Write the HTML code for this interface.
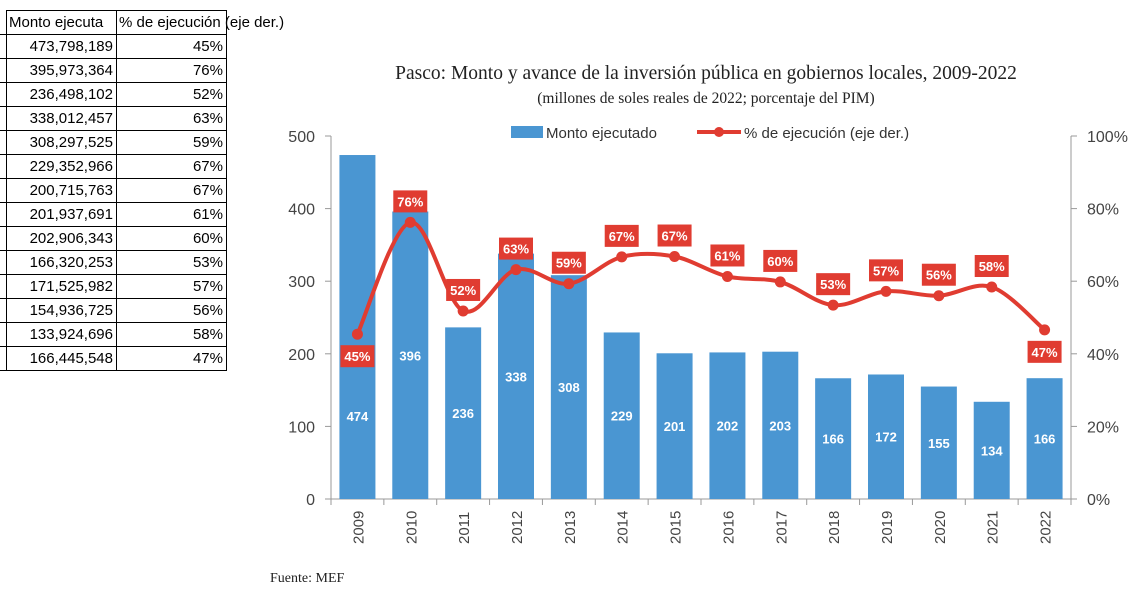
<!DOCTYPE html>
<html><head><meta charset="utf-8"><style>
body{margin:0;width:1134px;height:593px;background:#fff;overflow:hidden;position:relative;font-family:"Liberation Sans",sans-serif}
table{position:absolute;left:-2px;top:10px;border-collapse:collapse;font-family:"Liberation Sans",sans-serif;font-size:15px;color:#000}
td{border:1px solid #000;height:23px;padding:0 3px;line-height:23px;text-align:right;white-space:nowrap}
td.a{width:8px;border-left:none;padding:0}
td.b{width:103px}td.c{width:103px}
</style></head><body>
<table>
<tr><td class="a" style="border-top:none"></td><td class="b" style="text-align:left;padding-left:2px">Monto ejecuta</td><td class="c" style="text-align:left;padding-left:2px;overflow:visible">% de ejecución<span style="position:absolute">&nbsp;(eje der.)</span></td></tr>
<tbody id="tb"></tbody>
</table>
<svg id="chart" width="1134" height="593" style="position:absolute;left:0;top:0"></svg>
<script>
const years=["2009","2010","2011","2012","2013","2014","2015","2016","2017","2018","2019","2020","2021","2022"];
const monto=[473.8,396.0,236.4,338.0,308.3,229.4,200.7,201.9,202.9,166.3,171.5,154.9,133.9,166.4];
const montoText=["473,798,189","395,973,364","236,498,102","338,012,457","308,297,525","229,352,966","200,715,763","201,937,691","202,906,343","166,320,253","171,525,982","154,936,725","133,924,696","166,445,548"];
const pct=[45.4,76.2,51.8,63.2,59.3,66.7,66.8,61.3,59.8,53.4,57.2,56.0,58.4,46.6];
const leftTicks=[0,100,200,300,400,500];
const rightTicks=[0,20,40,60,80,100];

const tb=document.getElementById('tb');
montoText.forEach((m,i)=>{
 const tr=document.createElement('tr');
 tr.innerHTML='<td class="a"></td><td class="b">'+m+'</td><td class="c">'+Math.round(pct[i])+'%</td>';
 
 
 tb.appendChild(tr);
});

const NS='http://www.w3.org/2000/svg';
const svg=document.getElementById('chart');
const X0=331,X1=1071,Y0=499,Y1=136;
const step=(X1-X0)/years.length;
const xc=i=>X0+step*(i+0.5);
const yl=v=>Y0-(v/500)*(Y0-Y1);
const yr=v=>Y0-(v/100)*(Y0-Y1);
function el(tag,attrs,txt){const e=document.createElementNS(NS,tag);for(const k in attrs)e.setAttribute(k,attrs[k]);if(txt!==undefined)e.textContent=txt;svg.appendChild(e);return e;}

let t=el('text',{x:706,y:79,'text-anchor':'middle','font-family':'Liberation Serif','font-size':19.5,fill:'#222'},'Pasco: Monto y avance de la inversión pública en gobiernos locales, 2009-2022');

t=el('text',{x:706,y:103,'text-anchor':'middle','font-family':'Liberation Serif','font-size':15.5,fill:'#222'},'(millones de soles reales de 2022; porcentaje del PIM)');

t=el('text',{x:270,y:582,'font-family':'Liberation Serif','font-size':14,fill:'#222'},'Fuente: MEF');


let g=el('rect',{x:511,y:126,width:32,height:12,fill:'#4a96d2'});

t=el('text',{x:546,y:138,'font-size':15,fill:'#333'},'Monto ejecutado');

g=el('line',{x1:697,y1:132,x2:741,y2:132,stroke:'#e03c31','stroke-width':4});

g=el('circle',{cx:719,cy:132,r:5,fill:'#e03c31'});

t=el('text',{x:744,y:138,'font-size':15,fill:'#333'},'% de ejecución (eje der.)');


g=el('line',{x1:X0,y1:Y1,x2:X0,y2:Y0,stroke:'#999','stroke-width':1});

g=el('line',{x1:X1,y1:Y1,x2:X1,y2:Y0,stroke:'#999','stroke-width':1});

g=el('line',{x1:X0-6,y1:Y0,x2:X1+6,y2:Y0,stroke:'#999','stroke-width':1});

leftTicks.forEach(v=>{
 const y=yl(v);
 const l=el('line',{x1:X0-6,y1:y,x2:X0,y2:y,stroke:'#999'});
 
 const tx=el('text',{x:315,y:y+6,'text-anchor':'end','font-size':16,fill:'#444'},String(v));
 
});
rightTicks.forEach(v=>{
 const y=yr(v);
 const l=el('line',{x1:X1,y1:y,x2:X1+6,y2:y,stroke:'#999'});
 
 const tx=el('text',{x:1087,y:y+6,'font-size':16,fill:'#444'},v+'%');
 
});
for(let i=0;i<=years.length;i++){
 const x=X0+step*i;
 const l=el('line',{x1:x,y1:Y0,x2:x,y2:Y0+6,stroke:'#999'});
 
}
years.forEach((yv,i)=>{
 const x=xc(i),bw=36;
 const b=el('rect',{x:x-bw/2,y:yl(monto[i]),width:bw,height:Y0-yl(monto[i]),fill:'#4a96d2'});
 
 let mid=(yl(monto[i])+Y0)/2;
 const below=(i===0||i===years.length-1);
 if(below){const bb=yr(pct[i])+33; if(mid<bb+12) mid=bb+(Y0-bb)/2-17;}
 const tx=el('text',{x:x,y:mid+5,'text-anchor':'middle','font-size':13,'font-weight':'bold',fill:'#fff'},String(Math.round(monto[i])));
 
 const xl=el('text',{transform:'translate('+(x+6)+','+(Y0+45)+') rotate(-90)','font-size':15,fill:'#444'},yv);
 
});
const pts=pct.map((v,i)=>[xc(i),yr(v)]);
let d='M'+pts[0][0]+','+pts[0][1];
for(let i=0;i<pts.length-1;i++){
 const p0=pts[Math.max(0,i-1)],p1=pts[i],p2=pts[i+1],p3=pts[Math.min(pts.length-1,i+2)];
 const c1=[p1[0]+(p2[0]-p0[0])/6,p1[1]+(p2[1]-p0[1])/6];
 const c2=[p2[0]-(p3[0]-p1[0])/6,p2[1]-(p3[1]-p1[1])/6];
 d+=' C'+c1[0]+','+c1[1]+' '+c2[0]+','+c2[1]+' '+p2[0]+','+p2[1];
}
const line=el('path',{d:d,fill:'none',stroke:'#e03c31','stroke-width':4});

pts.forEach((p,i)=>{
 const c=el('circle',{cx:p[0],cy:p[1],r:5.5,fill:'#e03c31'});
 
 const below=(i===0||i===pts.length-1);
 const cy=below?p[1]+22:p[1]-21;
 const r=el('rect',{x:p[0]-17,y:cy-11,width:34,height:22,fill:'#e03c31'});
 
 const tx=el('text',{x:p[0],y:cy+5,'text-anchor':'middle','font-size':13,'font-weight':'bold',fill:'#fff'},Math.round(pct[i])+'%');
 
});
</script>
</body></html>
